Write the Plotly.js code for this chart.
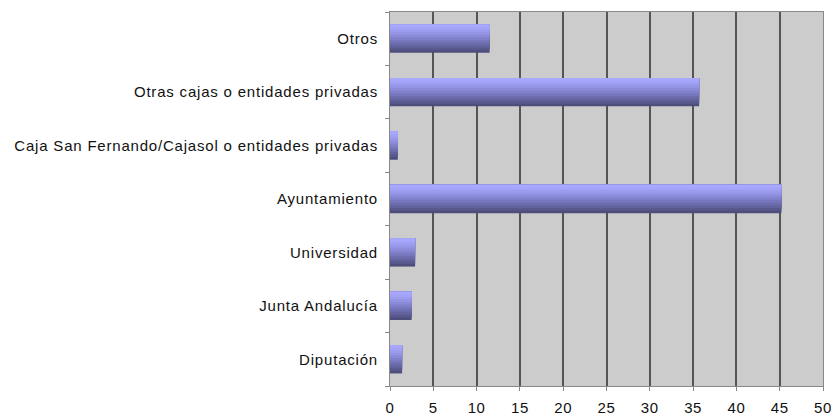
<!DOCTYPE html>
<html>
<head>
<meta charset="utf-8">
<script src="https://cdn.plot.ly/plotly-3.0.1.min.js"></script>
<style>
html,body{margin:0;padding:0;background:#fff;}
#chart{width:831px;height:417px;}
#chart .ytick text{letter-spacing:0.8px;}
#chart .xtick text{letter-spacing:0.6px;}
</style>
</head>
<body>
<div id="chart"></div>
<script>
const categories = ["Diputación", "Junta Andalucía", "Universidad", "Ayuntamiento",
  "Caja San Fernando/Cajasol o entidades privadas", "Otras cajas o entidades privadas", "Otros"];
const values = [1.4, 2.5, 2.9, 45.2, 0.9, 35.7, 11.5];
const xTicks = [0, 5, 10, 15, 20, 25, 30, 35, 40, 45, 50];

// gradient: dark at bottom of each bar, light at top (nested overlays, no seams)
const bandColors = ["#4e4e7c", "#58588c", "#62629c", "#6c6cac", "#7676bc", "#8080ca", "#8a8ad8", "#9494e4", "#9c9cef", "#a3a3f8", "#a8a8ff"];
const barWidth = 0.53;
const n = bandColors.length;
const step = barWidth / n;
const traces = bandColors.map((c, i) => ({
  type: "bar",
  orientation: "h",
  y: categories,
  x: values,
  width: barWidth - i * step,
  offset: -barWidth / 2 + i * step,
  marker: {color: c, line: {width: 0}},
  hoverinfo: "skip",
  showlegend: false
}));

const layout = {
  width: 831, height: 417,
  margin: {l: 390, r: 8, t: 12, b: 31},
  paper_bgcolor: "#ffffff",
  plot_bgcolor: "#cccccc",
  barmode: "overlay",
  font: {family: "Liberation Sans, Arial, sans-serif", size: 12, color: "#000"},
  xaxis: {
    range: [0, 50],
    tickvals: xTicks,
    ticktext: xTicks.map(String),
    showgrid: true, gridcolor: "#555555", gridwidth: 2,
    zeroline: false,
    showline: true, linecolor: "#888888", linewidth: 1, mirror: true,
    ticks: "outside", ticklen: 4, tickcolor: "#888888",
    tickfont: {size: 15, color: "#111"},
    ticklabelstandoff: 4,
    ticklabeloverflow: "allow"
  },
  yaxis: {
    type: "category",
    categoryorder: "array", categoryarray: categories,
    range: [-0.5, 6.5],
    showgrid: false, zeroline: false,
    showline: true, linecolor: "#888888", linewidth: 1, mirror: true,
    ticks: "outside", tickson: "boundaries", ticklen: 4, tickcolor: "#888888",
    tickfont: {size: 15, color: "#111"},
    ticklabelstandoff: 8
  }
};

Plotly.newPlot("chart", traces, layout, {staticPlot: true});
</script>
</body>
</html>
